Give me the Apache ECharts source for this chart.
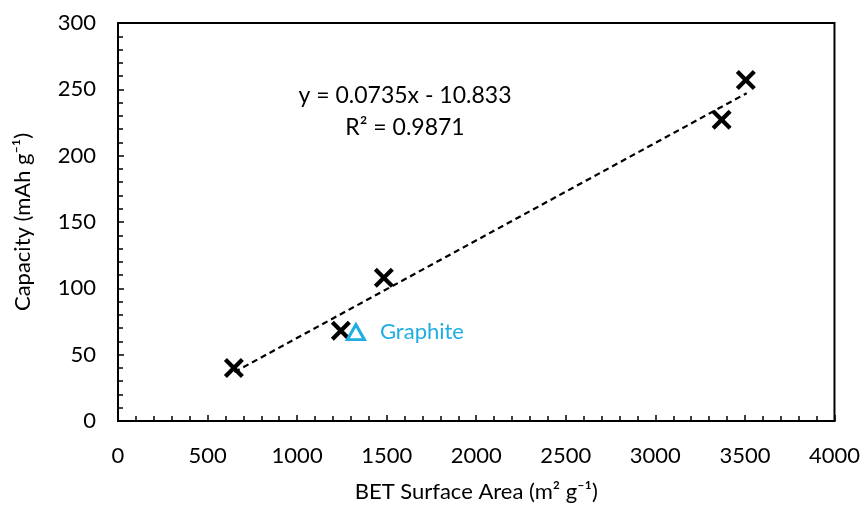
<!DOCTYPE html>
<html>
<head>
<meta charset="utf-8">
<script src="https://cdn.jsdelivr.net/npm/echarts@6/dist/echarts.min.js"></script>
<style>
  html, body { margin: 0; padding: 0; background: #fff; }
  #chart { width: 863px; height: 508px; }
</style>
</head>
<body>
<div id="chart"></div>
<script>
// samples: BET surface area (m2/g) vs capacity (mAh/g)
const betArea = [647, 1244, 1484, 3370, 3505];
const capacity = [40, 68, 108, 227, 257];
// graphite reference
const graphiteArea = [1328];
const graphiteCap = [67];
// trendline ends, y = 0.0735x - 10.833
const trendX = [650, 3510];
const trendY = [36.9, 247.1];
const fitText = ["y = 0.0735x - 10.833", "R\u00b2 = 0.9871"];

const FONT = "Lato";
const crossPath = "path://M0,3 L3,0 L10,7 L17,0 L20,3 L13,10 L20,17 L17,20 L10,13 L3,20 L0,17 L7,10 Z";

const chart = echarts.init(document.getElementById("chart"));

let option = {
  animation: false,
  backgroundColor: "#fff",
  grid: {
    left: 118, right: 28, top: 23, bottom: 84,
    show: true, borderColor: "#000", borderWidth: 2, backgroundColor: "transparent"
  },
  xAxis: {
    type: "value",
    min: 0, max: 4000, interval: 500,
    name: "BET Surface Area (m\u00b2 g\u207b\u00b9)",
    nameLocation: "middle",
    nameGap: 60,
    nameTextStyle: { fontFamily: FONT, fontSize: 22, color: "#000" },
    axisLine: { show: true, lineStyle: { color: "#000", width: 2 } },
    axisTick: { show: true, inside: true, length: 6, lineStyle: { color: "#000", width: 1.5 } },
    minorTick: { show: true, splitNumber: 5, length: 5, lineStyle: { color: "#000", width: 1.5 } },
    splitLine: { show: false },
    axisLabel: {
      fontFamily: FONT, fontSize: 22, color: "#000", margin: 24,
      formatter: (v) => String(v)
    }
  },
  yAxis: {
    type: "value",
    min: 0, max: 300, interval: 50,
    name: "Capacity (mAh g\u207b\u00b9)",
    nameLocation: "middle",
    nameGap: 84,
    nameTextStyle: { fontFamily: FONT, fontSize: 22, color: "#000" },
    axisLine: { show: true, lineStyle: { color: "#000", width: 2 } },
    axisTick: { show: true, inside: true, length: 6, lineStyle: { color: "#000", width: 1.5 } },
    minorTick: { show: true, splitNumber: 5, length: 5, lineStyle: { color: "#000", width: 1.5 } },
    splitLine: { show: false },
    axisLabel: {
      fontFamily: FONT, fontSize: 22, color: "#000", margin: 22,
      formatter: (v) => String(v)
    }
  },
  graphic: [
    {
      type: "text", x: 405, y: 96,
      style: { text: fitText[0], fontFamily: FONT, fontSize: 23, fill: "#000", align: "center", verticalAlign: "middle" }
    },
    {
      type: "text", x: 405, y: 128,
      style: { text: fitText[1], fontFamily: FONT, fontSize: 23, fill: "#000", align: "center", verticalAlign: "middle" }
    }
  ],
  series: [
    {
      name: "trend",
      type: "line",
      data: trendX.map((x, i) => [x, trendY[i]]),
      symbol: "none",
      lineStyle: { color: "#000", width: 2.2, type: [6, 4] },
      z: 1
    },
    {
      name: "samples",
      type: "scatter",
      data: betArea.map((x, i) => [x, capacity[i]]),
      symbol: crossPath,
      symbolSize: 20,
      itemStyle: { color: "#000", opacity: 1 },
      z: 3
    },
    {
      name: "Graphite",
      type: "scatter",
      data: graphiteArea.map((x, i) => [x, graphiteCap[i]]),
      symbol: "triangle",
      symbolSize: [17, 15],
      itemStyle: { color: "#fff", borderColor: "#1EAEE4", borderWidth: 3, opacity: 1 },
      label: {
        show: true, position: "right", distance: 14,
        formatter: "Graphite",
        fontFamily: FONT, fontSize: 22, color: "#1EAEE4"
      },
      z: 4
    }
  ]
};

chart.setOption(option);
</script>
</body>
</html>
